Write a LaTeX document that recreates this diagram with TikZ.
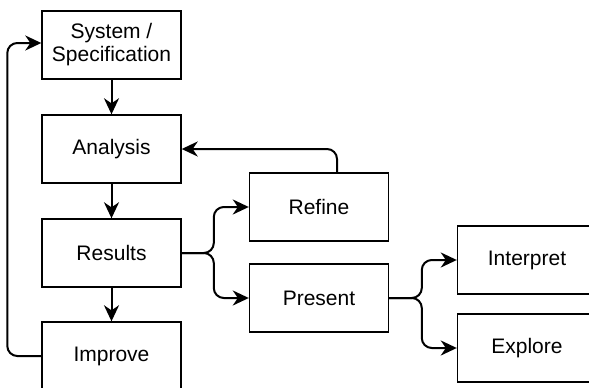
\documentclass[tikz,border=0pt]{standalone}
\usepackage{fontspec}
\setmainfont{Liberation Sans}
\usetikzlibrary{arrows.meta}
\begin{document}
\begin{tikzpicture}[x=1pt,y=-1pt,
  stepbox/.style={draw, line width=1.4pt, minimum width=139pt, minimum height=68pt,
    inner sep=0pt, align=center, font=\fontsize{21}{23}\selectfont},
  flow/.style={line width=2pt, rounded corners=10pt,
    -{Stealth[length=16pt,width=15pt,inset=5pt]}}]
\useasboundingbox (0,0) rectangle (589,388);
\clip (0,0) rectangle (589,388);
% main column
\node[stepbox] (sys) at (111.5,45)  {System /\\Specification};
\node[stepbox] (ana) at (111.5,149) {Analysis};
\node[stepbox] (res) at (111.5,253) {Results};
\node[stepbox] (imp) at (111.5,356) {Improve};
% branches
\node[stepbox] (ref) at (319,207)   {Refine};
\node[stepbox] (pre) at (319,298)   {Present};
\node[stepbox] (int) at (527,260)   {Interpret};
\node[stepbox] (exp) at (527,348)   {Explore};
% connectors
\draw[flow] (sys) -- (ana);
\draw[flow] (ana) -- (res);
\draw[flow] (res) -- (imp);
\draw[flow] (imp.west) -| ([xshift=-34pt,yshift=2pt]sys.west) -- ([yshift=2pt]sys.west);
\draw[flow] (res.east) -| ([xshift=-35pt]ref.west) -- (ref.west);
\draw[flow] (res.east) -| ([xshift=-35pt]pre.west) -- (pre.west);
\draw[flow] ([xshift=18pt]ref.north) |- (ana.east);
\draw[flow] (pre.east) -| ([xshift=-35pt]int.west) -- (int.west);
\draw[flow] (pre.east) -| ([xshift=-35pt]exp.west) -- (exp.west);
\end{tikzpicture}
\end{document}
